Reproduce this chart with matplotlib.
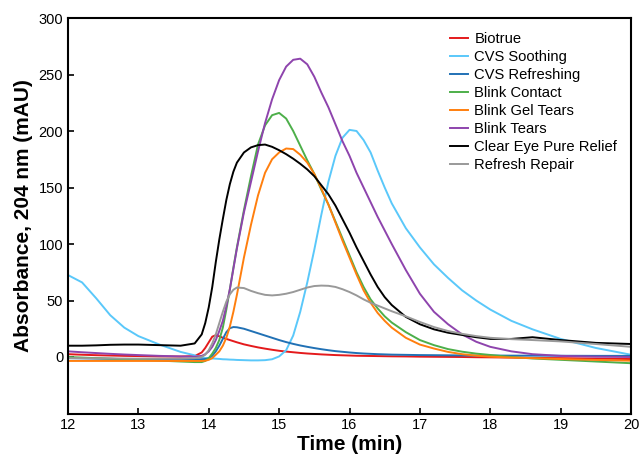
import numpy as np
import matplotlib
matplotlib.use("Agg")
import matplotlib.pyplot as plt

plt.rcParams["font.family"] = ["Liberation Sans", "DejaVu Sans"]

# Shared retention-time grid (min)
time_min = [12.0, 12.2, 12.4, 12.6, 12.8, 13.0, 13.3, 13.6, 13.8, 13.9,
            13.95, 14.0, 14.05, 14.1, 14.15, 14.2, 14.25, 14.3, 14.35, 14.4,
            14.5, 14.6, 14.7, 14.8, 14.9,
            15.0, 15.1, 15.2, 15.3, 15.4, 15.5, 15.6, 15.7, 15.8, 15.9,
            16.0, 16.1, 16.2, 16.3, 16.4, 16.5, 16.6, 16.8, 17.0, 17.2,
            17.4, 17.6, 17.8, 18.0, 18.3, 18.6, 19.0, 19.5, 20.0]

# Absorbance at 204 nm (mAU)
biotrue = [2.5, 2.0, 1.6, 1.3, 1.0, 0.8, 0.5, 0.4, 0.8, 4,
           8, 13, 18, 19.3, 18.3, 17, 16, 15, 14, 13,
           11.2, 9.8, 8.5, 7.4, 6.4,
           5.5, 4.8, 4.2, 3.6, 3.1, 2.7, 2.3, 2.0, 1.7, 1.5,
           1.3, 1.1, 1.0, 0.9, 0.8, 0.7, 0.6, 0.5, 0.3, 0.2,
           0.1, 0, -0.2, -0.3, -0.5, -0.8, -1.0, -1.4, -1.8]
cvs_soothing = [72.5, 66, 52, 37, 26, 18.5, 11, 4.5, 1.5, -0.5,
                -0.9, -1.2, -1.3, -1.5, -1.7, -2, -2.1, -2.3, -2.4, -2.6,
                -2.8, -3, -3, -2.8, -2,
                0.5, 6, 19, 40, 66, 95, 126, 155, 178, 194,
                201, 200, 192, 181, 165, 150, 136, 114, 97, 82,
                70, 59, 50, 42, 32, 24.5, 16, 8, 2]
cvs_refreshing = [-1, -1.2, -1.4, -1.6, -1.8, -2, -2, -2, -2, -2,
                  -1.8, -1, 1, 5, 10, 16, 22, 25.5, 26.5, 26.3,
                  25, 23, 21, 19, 17,
                  15, 13.2, 11.6, 10.2, 9, 7.9, 6.9, 6, 5.2, 4.6,
                  4, 3.5, 3.1, 2.8, 2.5, 2.3, 2.1, 1.9, 1.7, 1.6,
                  1.5, 1.4, 1.3, 1.3, 1.2, 1.2, 1.1, 1.0, 1.0]
blink_contact = [0, -0.5, -1, -1.5, -2, -2.5, -3.2, -4, -4.5, -4.5,
                 -3.5, -1, 3, 8, 15, 26, 42, 60, 79, 97,
                 130, 160, 188, 205, 214,
                 216, 211, 200, 187, 174, 162, 148, 135, 120, 105,
                 90, 75, 62, 51, 43, 36, 30.5, 22, 15, 10.5,
                 7, 4.7, 3, 1.8, 0, -1.3, -2.5, -4, -5.5]
blink_gel_tears = [-3.5, -3.5, -3.5, -3.5, -3.5, -3.5, -3.5, -3.5, -3.5, -3.5,
                   -3.3, -2.5, -1, 2, 5, 10, 17, 27, 40, 55,
                   88, 117, 143, 163, 175,
                   181, 184.5, 184, 179, 172, 162, 149, 135, 119, 103,
                   88, 73, 59, 48, 39, 32, 26, 17, 11, 7.5,
                   4.5, 2.5, 1.2, 0.3, -0.5, -1, -1.8, -2.6, -3.3]
blink_tears = [5, 4.2, 3.5, 2.8, 2.2, 1.7, 1.0, 0.5, 0.3, 1,
               2.5, 5, 9, 15, 23, 32, 45, 60, 78, 96,
               128, 155, 182, 207, 228,
               245, 257, 263, 264, 259, 248, 234, 221, 206, 191,
               178, 163, 150, 137, 124, 112, 100, 77, 56, 40,
               29, 20, 13.5, 9, 5, 2.5, 1, 0.3, 0]
clear_eye = [10, 10, 10.3, 10.8, 11, 11, 10.5, 10, 12, 20,
             30, 44, 62, 84, 104, 122, 139, 153, 164, 172,
             181, 185.5, 187.5, 188, 186,
             183, 179.5, 175.5, 171, 166, 160, 152, 144, 134, 122,
             110, 97, 85, 73, 62, 53, 46, 35.5, 29, 24.5,
             21.5, 19.5, 17.5, 16, 16, 17.5, 15, 12.5, 11.5]
refresh_repair = [-1, -1, -1.2, -1.3, -1.4, -1.5, -1.5, -1.5, -1, 0,
                  2, 6, 12, 20, 30, 40, 49, 55.5, 59.5, 61.5,
                  61, 58.5, 56.5, 55, 54.5,
                  55, 56, 57.5, 59.5, 61.5, 62.8, 63.2, 63, 62, 60,
                  57.5, 54.5, 51, 48, 45.5, 43, 40.5, 36, 31, 26.5,
                  23, 20.5, 18.5, 17, 15.8, 15, 13.8, 11.5, 9]

series = [
    ("Biotrue", biotrue, "#e41a1c"),
    ("CVS Soothing", cvs_soothing, "#5ac8fa"),
    ("CVS Refreshing", cvs_refreshing, "#2171b5"),
    ("Blink Contact", blink_contact, "#4daf4a"),
    ("Blink Gel Tears", blink_gel_tears, "#ff7f0e"),
    ("Blink Tears", blink_tears, "#8e44ad"),
    ("Clear Eye Pure Relief", clear_eye, "#000000"),
    ("Refresh Repair", refresh_repair, "#999999"),
]

fig = plt.figure(figsize=(6.39, 4.54), dpi=100)
ax = fig.add_axes([68 / 639, 1 - 413.5 / 454, (631 - 68) / 639, (413.5 - 18) / 454])

t = np.array(time_min)
for label, vals, color in series:
    ax.plot(t, vals, color=color, linewidth=1.4, label=label)

ax.set_xlim(12, 20)
ax.set_ylim(-50, 300)
ax.set_xticks(range(12, 21))
ax.set_yticks(range(0, 301, 50))
ax.tick_params(direction="in", length=4, width=1.2, labelsize=10.5)
for sp in ax.spines.values():
    sp.set_linewidth(1.5)

ax.set_xlabel("Time (min)", fontsize=15, fontweight="bold", labelpad=2)
ax.set_ylabel("Absorbance, 204 nm (mAU)", fontsize=15, fontweight="bold", labelpad=4)

ax.legend(loc="upper left", bbox_to_anchor=(450 / 639, 1 - 32 / 454),
          bbox_transform=fig.transFigure, frameon=False, fontsize=10.6,
          handlelength=1.2, handletextpad=0.45, labelspacing=0.27,
          borderpad=0, borderaxespad=0)

fig.savefig("out.png", dpi=100)
